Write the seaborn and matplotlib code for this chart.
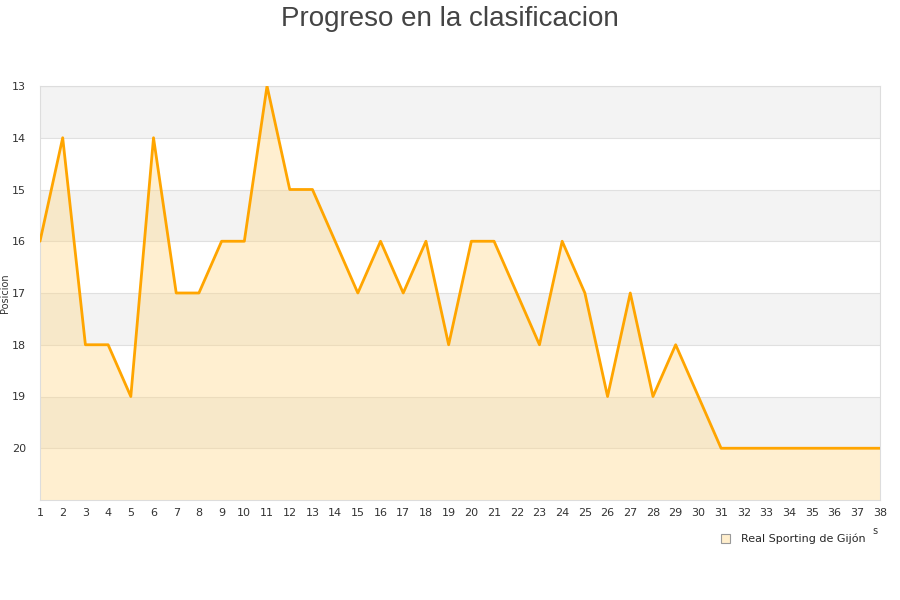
import numpy as np
import pandas as pd
import matplotlib
matplotlib.use("Agg")
import matplotlib.pyplot as plt
import seaborn as sns
from matplotlib.patches import Patch

sns.set_style("white")
plt.rcParams['font.family'] = ['DejaVu Sans']

jornadas = list(range(1, 39))
posiciones = [16, 14, 18, 18, 19, 14, 17, 17, 16, 16,
              13, 15, 15, 16, 17, 16, 17, 16, 18, 16,
              16, 17, 18, 16, 17, 19, 17, 19, 18, 19,
              20, 20, 20, 20, 20, 20, 20, 20]
equipo = "Real Sporting de Gijón"

df = pd.DataFrame({"jornada": jornadas, "posicion": posiciones})

fig = plt.figure(figsize=(9, 6), dpi=100)
ax = fig.add_axes([40/900, 100/600, 840/900, 414/600])

# bandas alternas
for y0 in range(13, 21):
    if (y0 - 13) % 2 == 0:
        ax.axhspan(y0, y0 + 1, color="#f3f3f3", zorder=0, lw=0)
    ax.axhline(y0, color="#e0e0e0", lw=0.8, zorder=1)

ax.fill_between(df["jornada"], df["posicion"], 21, color="#ffd88a", alpha=0.4, lw=0, zorder=2)
sns.lineplot(data=df, x="jornada", y="posicion", color="#ffa500", lw=2, ax=ax, zorder=3)

ax.set_xlim(1, 38)
ax.set_ylim(21, 13)
ax.set_xticks(jornadas)
ax.set_yticks(range(13, 21))
ax.tick_params(axis="both", labelsize=8, colors="#333333", length=0)
ax.tick_params(axis="x", pad=6)
ax.tick_params(axis="y", pad=10)
for s in ax.spines.values():
    s.set_color("#dddddd")
    s.set_linewidth(0.8)
ax.set_xlabel("")
ax.set_ylabel("Posicion", fontsize=7, color="#333333")
ax.yaxis.set_label_coords(-30/840, 0.5)

fig.text(0.5, 1 - 19/600, "Progreso en la clasificacion", ha="center", va="center",
         fontsize=20, color="#444444", family=["Liberation Sans", "DejaVu Sans"])
fig.text(875/900, 1 - 531/600, "s", ha="center", va="center", fontsize=7, color="#333333")

leg = ax.legend(handles=[Patch(facecolor="#ffeecc", edgecolor="#999999", lw=0.8, label=equipo)],
                loc="upper right", bbox_to_anchor=(876/900, 1 - 524/600),
                bbox_transform=fig.transFigure, frameon=False, fontsize=8,
                handlelength=0.8, handleheight=0.8, handletextpad=1.0)

fig.savefig("out.png", dpi=100)
